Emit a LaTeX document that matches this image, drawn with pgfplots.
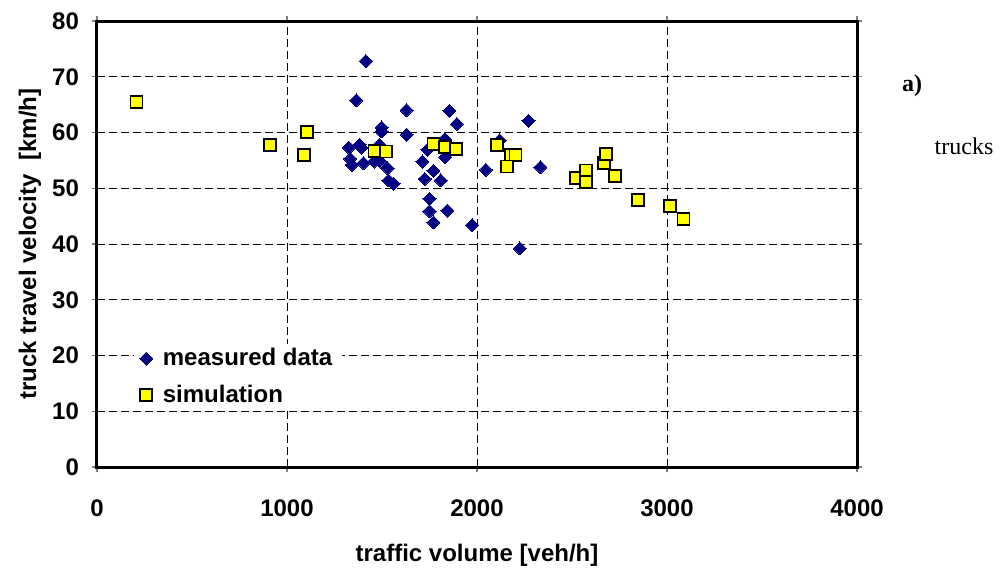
\documentclass[border=0pt]{standalone}
\usepackage{pgfplots}
\pgfplotsset{compat=1.18}
\usepackage{fontspec}
\setmainfont{Liberation Sans}
\newfontfamily\timesfont{Liberation Serif}
\definecolor{navyd}{RGB}{0,0,128}
\definecolor{yell}{RGB}{255,255,0}
\begin{document}
\begin{tikzpicture}
\begin{axis}[
  at={(0,0)}, anchor=south west,
  scale only axis, width=380pt, height=223pt,
  xmin=0, xmax=4000, ymin=0, ymax=80,
  xtick={0,1000,...,4000}, ytick={0,10,...,80},
  axis line style={line width=1.5pt},
  tick align=outside, major tick length=2.5pt,
  tick style={gray, line width=0.6pt},
  grid=major,
  major grid style={black, line width=0.5pt, dash pattern=on 4pt off 2pt},
  font=\bfseries\fontsize{12}{14}\selectfont,
  tick label style={font=\bfseries\fontsize{12}{14}\selectfont},
  /pgf/number format/assume math mode=true,
  /pgf/number format/1000 sep={},
  scaled x ticks=false,
  xticklabel style={yshift=-10.5pt},
  yticklabel style={xshift=-3pt},
  xlabel={traffic volume [veh/h]},
  ylabel={truck travel velocity\ \ [km/h]},
  xlabel style={at={(axis description cs:0.5,0)}, anchor=center, yshift=-44pt},
  ylabel style={at={(axis description cs:-0.0882,0.5)}, anchor=center},
  clip=false,
  legend cell align=left,
  legend style={draw=none, fill=white, inner ysep=0pt, at={(0.048,0.276)}, anchor=north west,
    font=\bfseries\fontsize{12}{14}\selectfont, row sep=4pt},
]
\addplot[only marks, mark=square*, mark size=2.3pt, mark options={rotate=45, fill=navyd, draw=navyd, line width=0pt}]
coordinates {
(1414,72.8) (1365,65.8) (1629,64.0) (1855,63.9) (1893,61.5) (2271,62.1)
(1498,60.9) (1498,60.2) (1629,59.6) (1830,58.8) (2119,58.6) (1326,57.3)
(1382,57.8) (1391,57.3) (1486,57.8) (1332,55.3) (1342,54.2) (1403,54.5)
(1459,54.8) (1490,54.8) (1529,53.6) (1534,51.4) (1561,50.8) (1739,56.9)
(1713,54.8) (1832,55.6) (1771,53.1) (1725,51.7) (1809,51.4) (1750,48.1)
(1750,45.9) (1844,46.0) (1771,43.9) (1975,43.4) (2046,53.3) (2226,39.2)
(2334,53.8)
};
\addlegendentry{\hspace{3pt}measured data\hspace{8pt}}
\addplot[only marks, mark=square*, mark size=3pt, mark options={fill=yell, draw=black, line width=0.9pt}]
coordinates {
(208,65.5) (912,57.8) (1104,60.1) (1090,55.9) (1461,56.7) (1522,56.6)
(1771,57.9) (1830,57.4) (1891,57.0) (2107,57.8) (2178,55.9) (2203,55.9)
(2156,53.9) (2523,51.9) (2574,53.2) (2574,51.1) (2668,54.5) (2679,56.1)
(2728,52.2) (2847,47.9) (3015,46.8) (3087,44.5)
};
\addlegendentry{\hspace{3pt}simulation}
\end{axis}
\node[font=\timesfont\bfseries\fontsize{12}{14}\selectfont] at (407.5pt,190.5pt) {a)};
\node[font=\timesfont\fontsize{12}{14}\selectfont] at (433.5pt,160.5pt) {trucks};
\pgfresetboundingbox
\path[use as bounding box] (-48.5pt,-51pt) rectangle (451.5pt,233.5pt);
\end{tikzpicture}
\end{document}
